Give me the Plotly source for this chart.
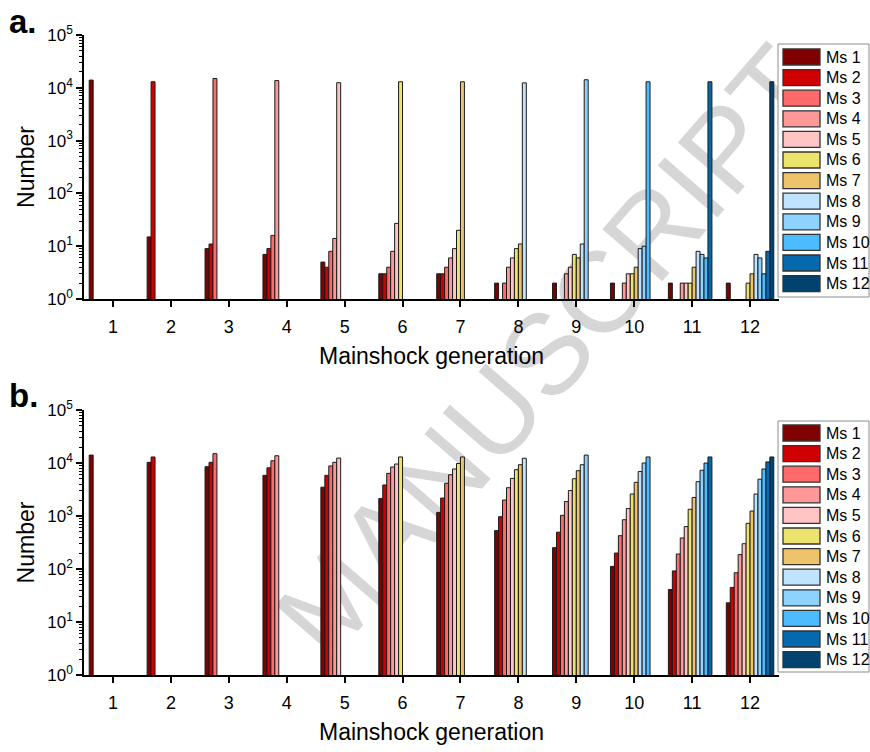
import plotly.graph_objects as go
from plotly.subplots import make_subplots

# ---------------- data ----------------
generations = [1, 2, 3, 4, 5, 6, 7, 8, 9, 10, 11, 12]
gen_labels = ["1", "2", "3", "4", "5", "6", "7", "8", "9", "10", "11", "12"]
series_names = ["Ms 1", "Ms 2", "Ms 3", "Ms 4", "Ms 5", "Ms 6",
                "Ms 7", "Ms 8", "Ms 9", "Ms 10", "Ms 11", "Ms 12"]
colors = ["#800000", "#D00000", "#FF6A6A", "#FF9999", "#FFC4C4", "#ECE46C",
          "#EDC46C", "#C0E4FF", "#8ED2FF", "#4DBBFF", "#0569AD", "#01426E"]

N = None
# panel a
a_ms1 = [14000, 15, 9, 7, 5, 3, 3, 2, 2, 2, 2, 2]
a_ms2 = [N, 13000, 11, 9, 4, 3, 3, N, N, N, N, N]
a_ms3 = [N, N, 15000, 16, 8, 4, 4, 2, N, N, N, N]
a_ms4 = [N, N, N, 13700, 14, 8, 6, 4, 3, 2, 2, N]
a_ms5 = [N, N, N, N, 12500, 27, 9, 6, 4, 3, 2, N]
a_ms6 = [N, N, N, N, N, 13000, 20, 9, 7, 3, 2, 2]
a_ms7 = [N, N, N, N, N, N, 13000, 11, 6, 4, 4, 3]
a_ms8 = [N, N, N, N, N, N, N, 12400, 11, 9, 8, 7]
a_ms9 = [N, N, N, N, N, N, N, N, 14200, 10, 7, 6]
a_ms10 = [N, N, N, N, N, N, N, N, N, 13000, 6, 3]
a_ms11 = [N, N, N, N, N, N, N, N, N, N, 13000, 8]
a_ms12 = [N, N, N, N, N, N, N, N, N, N, N, 13000]

# panel b
b_ms1 = [14100, 10300, 8500, 5850, 3500, 2130, 1170, 530, 253, 112, 41, 23]
b_ms2 = [N, 13000, 10300, 8100, 5850, 3850, 2180, 970, 495, 200, 92, 45]
b_ms3 = [N, N, 15000, 11000, 8800, 6380, 4140, 2000, 1030, 425, 192, 85]
b_ms4 = [N, N, N, 13700, 10300, 8400, 6000, 3420, 1870, 850, 385, 187]
b_ms5 = [N, N, N, N, 12400, 9570, 7710, 5130, 3020, 1380, 630, 300]
b_ms6 = [N, N, N, N, N, 13000, 9800, 7480, 5050, 2600, 1340, 727]
b_ms7 = [N, N, N, N, N, N, 13000, 9280, 7160, 4320, 2240, 1240]
b_ms8 = [N, N, N, N, N, N, N, 12300, 9280, 6900, 4440, 2600]
b_ms9 = [N, N, N, N, N, N, N, N, 14100, 10000, 7300, 4940]
b_ms10 = [N, N, N, N, N, N, N, N, N, 13000, 10000, 7710]
b_ms11 = [N, N, N, N, N, N, N, N, N, N, 13000, 10500]
b_ms12 = [N, N, N, N, N, N, N, N, N, N, N, 13000]

panel_a = [a_ms1, a_ms2, a_ms3, a_ms4, a_ms5, a_ms6, a_ms7, a_ms8, a_ms9, a_ms10, a_ms11, a_ms12]
panel_b = [b_ms1, b_ms2, b_ms3, b_ms4, b_ms5, b_ms6, b_ms7, b_ms8, b_ms9, b_ms10, b_ms11, b_ms12]

y_tickvals = [1, 10, 100, 1000, 10000, 100000]
y_ticktext = ["10<sup>0</sup>", "10<sup>1</sup>", "10<sup>2</sup>",
              "10<sup>3</sup>", "10<sup>4</sup>", "10<sup>5</sup>"]

# ---------------- figure ----------------
W, H = 870, 752
FONT = "Arial, Liberation Sans, sans-serif"


def px(x):
    return x / W


def py(y):
    return 1 - y / H


fig = make_subplots(rows=2, cols=1)
for i, name in enumerate(series_names):
    for row, data in ((1, panel_a), (2, panel_b)):
        fig.add_trace(go.Bar(x=generations, y=data[i], name=name,
                             marker=dict(color=colors[i],
                                         line=dict(color="#1a1a1a", width=1)),
                             showlegend=False), row=row, col=1)

minor_vals = [m * 10 ** k for k in range(5) for m in range(2, 10)]

x_left, x_right = 84, 779
panels = [(35, 299), (410, 675)]
for idx, (top, bot) in enumerate(panels):
    xa = "xaxis" if idx == 0 else "xaxis2"
    ya = "yaxis" if idx == 0 else "yaxis2"
    fig.layout[xa].update(
        domain=[px(x_left), px(x_right)], range=[0.5, 12.5],
        tickvals=generations, ticktext=gen_labels, ticks="outside",
        ticklen=6, tickwidth=1.5, tickcolor="black", ticklabelstandoff=5,
        showline=True, linecolor="black", linewidth=1.5,
        showgrid=False, zeroline=False,
        tickfont=dict(family=FONT, size=18, color="black"),
        title=dict(text="Mainshock generation", standoff=12,
                   font=dict(family=FONT, size=23, color="black")),
        automargin=False)
    fig.layout[ya].update(
        domain=[py(bot), py(top)], type="log", range=[0, 5],
        tickvals=y_tickvals, ticktext=y_ticktext, ticks="outside",
        ticklen=6, tickwidth=1.5, tickcolor="black",
        minor=dict(tickvals=minor_vals, ticks="outside", ticklen=3,
                   tickwidth=1, tickcolor="black", showgrid=False),
        showline=True, linecolor="black", linewidth=1.5,
        showgrid=False, zeroline=False,
        tickfont=dict(family=FONT, size=17, color="black"),
        title=dict(text="Number", standoff=6,
                   font=dict(family=FONT, size=23, color="black")),
        automargin=False)

fig.update_layout(
    width=W, height=H, autosize=False,
    margin=dict(l=0, r=0, t=0, b=0),
    paper_bgcolor="white", plot_bgcolor="rgba(0,0,0,0)",
    barmode="group", bargap=0.18, bargroupgap=0,
    showlegend=False,
)

# panel letters
for label, y in (("a.", 21), ("b.", 395)):
    fig.add_annotation(text=f"<b>{label}</b>", xref="paper", yref="paper",
                       x=px(7), y=py(y), xanchor="left", yanchor="middle",
                       showarrow=False, font=dict(family=FONT, size=33, color="black"))

# custom legends
legend_boxes = [(44, 297, 57), (421, 672, 433)]
pitch = 20.6
for (btop, bbot, first) in legend_boxes:
    fig.add_shape(type="rect", xref="paper", yref="paper",
                  x0=px(778), x1=px(869), y0=py(bbot), y1=py(btop),
                  line=dict(color="#8c8c8c", width=1), fillcolor="white")
    for i, name in enumerate(series_names):
        cy = first + i * pitch
        fig.add_shape(type="rect", xref="paper", yref="paper",
                      x0=px(783), x1=px(820), y0=py(cy + 8), y1=py(cy - 8),
                      line=dict(color="#333333", width=1.3), fillcolor=colors[i])
        fig.add_annotation(text=name, xref="paper", yref="paper",
                           x=px(824), y=py(cy), xanchor="left", yanchor="middle",
                           showarrow=False,
                           font=dict(family=FONT, size=16, color="black"))

# watermark
cx, cy = 540, 344
fig.add_shape(type="rect", xref="paper", yref="paper",
              x0=px(cx - 5), x1=px(cx + 5), y0=py(cy + 5), y1=py(cy - 5),
              line=dict(width=0), fillcolor="rgba(0,0,0,0)", layer="below",
              label=dict(text="MANUSCRIPT", textangle=-49,
                         textposition="middle center",
                         font=dict(family=FONT, size=115, color="#d6d6d6")))

fig.write_html("out.html")
